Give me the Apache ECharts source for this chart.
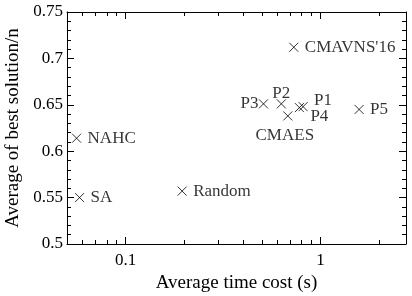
<!DOCTYPE html>
<html>
    <head>
        <meta charset="utf-8" />
        <title>Average of best solution vs average time cost</title>
        <script src="https://cdn.jsdelivr.net/npm/echarts@6.0.0/dist/echarts.min.js"></script>
        <script>
            // algorithm results
            const names = ["NAHC", "SA", "Random", "CMAVNS'16", "P3", "P2", "CMAES", "P1", "P4", "P5"];
            const timeCost = [0.056, 0.058, 0.195, 0.73, 0.51, 0.63, 0.68, 0.815, 0.78, 1.58];
            const bestSol = [0.614, 0.55, 0.557, 0.712, 0.651, 0.651, 0.638, 0.648, 0.647, 0.645];

            const xMajorTicks = [0.1, 1];
            const xMinorTicks = [0.06, 0.07, 0.08, 0.09, 0.2, 0.3, 0.4, 0.5, 0.6, 0.7, 0.8, 0.9, 2];

            const font = "'Liberation Serif', 'DejaVu Serif', serif";

            // where each label sits relative to its marker
            const labelPlace = {
                "P3": {position: "left", distance: 0},
                "P2": {position: "top", distance: -3},
                "CMAES": {position: "bottom", distance: 6, offset: [-3, 0]},
                "P1": {position: "right", distance: 6, offset: [0, -6]},
                "P4": {position: "right", distance: 6, offset: [0, 9]},
            };

            function criarGrafico() {
                const pontos = names.map((n, i) => {
                    const lp = labelPlace[n] || {position: "right", distance: 6};
                    return {name: n, value: [timeCost[i], bestSol[i]], label: lp};
                });

                function eixoX(pos, ticks, len, principal) {
                    return {
                        type: "log",
                        position: pos,
                        min: 0.05,
                        max: 2.75,
                        gridIndex: 0,
                        name: principal && pos === "bottom" ? "Average time cost (s)" : "",
                        nameLocation: "middle",
                        nameGap: 26,
                        nameTextStyle: {fontFamily: font, fontSize: 19, color: "#000"},
                        axisLine: {show: principal, lineStyle: {color: "#000", width: 1}},
                        axisTick: {show: true, inside: true, length: len, customValues: ticks, lineStyle: {color: "#000"}},
                        axisLabel: {
                            show: principal && pos === "bottom",
                            customValues: xMajorTicks,
                            fontFamily: font,
                            fontSize: 17,
                            color: "#000",
                            margin: 8,
                        },
                        splitLine: {show: false},
                    };
                }

                function eixoY(pos, comLabel) {
                    return {
                        type: "value",
                        position: pos,
                        min: 0.5,
                        max: 0.75,
                        interval: 0.05,
                        name: comLabel ? "Average of best solution/n" : "",
                        nameLocation: "middle",
                        nameGap: 37,
                        nameTextStyle: {fontFamily: font, fontSize: 19, color: "#000"},
                        axisLine: {show: true, lineStyle: {color: "#000", width: 1}},
                        axisTick: {show: true, inside: true, length: 7, lineStyle: {color: "#000"}},
                        minorTick: {show: true, splitNumber: 5, length: 4, lineStyle: {color: "#000"}},
                        axisLabel: {show: comLabel, fontFamily: font, fontSize: 17, color: "#000", margin: 4},
                        splitLine: {show: false},
                    };
                }

                const chart = echarts.init(document.getElementById("grafico"));
                const option = {
                    animation: false,
                    textStyle: {fontFamily: font},
                    grid: {left: 67, right: 6, top: 12, bottom: 52, outerBoundsMode: "none"},
                    xAxis: [
                        eixoX("bottom", xMajorTicks, 7, true),
                        eixoX("bottom", xMinorTicks, 4, false),
                        eixoX("top", xMajorTicks, 7, true),
                        eixoX("top", xMinorTicks, 4, false),
                    ],
                    yAxis: [eixoY("left", true), eixoY("right", false)],
                    series: [
                        {
                            type: "scatter",
                            xAxisIndex: 0,
                            yAxisIndex: 0,
                            data: pontos,
                            symbol: "path://M0,0L10,10M10,0L0,10",
                            symbolSize: 9,
                            itemStyle: {color: "transparent", borderColor: "#000", borderWidth: 1},
                            label: {
                                show: true,
                                formatter: "{b}",
                                fontFamily: font,
                                fontSize: 17,
                                color: "#000",
                            },
                        },
                    ],
                };
                chart.setOption(option);
            }

            window.onload = criarGrafico;
        </script>
    </head>
    <body style="margin: 0; background: #fff">
        <div id="grafico" style="width: 412px; height: 296px"></div>
    </body>
</html>
